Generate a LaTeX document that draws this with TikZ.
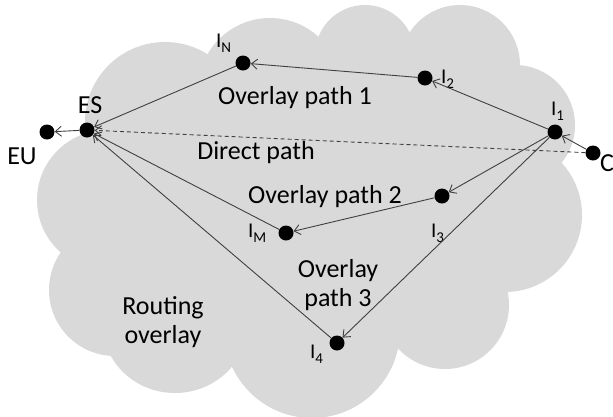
\documentclass[tikz,border=0pt]{standalone}
\usepackage{fontspec}
\setmainfont{Carlito}
\usetikzlibrary{positioning,arrows.meta}
\definecolor{cloudgray}{RGB}{217,217,217}
\definecolor{linkgray}{RGB}{64,64,64}
\newcommand{\Isub}[1]{I\raisebox{-5pt}{\fontsize{15}{15}\selectfont #1}}
\begin{document}
\begin{tikzpicture}[x=1pt,y=-1pt,
  dot/.style={circle,fill=black,inner sep=0pt,minimum size=15pt},
  link/.style={draw=linkgray,line width=0.9pt,-{Straight Barb[length=6pt,width=10pt]}},
  txt/.style={font=\fontsize{26}{29}\selectfont,align=center,inner sep=0pt},
  lbl/.style={font=\fontsize{21}{22}\selectfont,inner sep=0pt,anchor=base west}]
\useasboundingbox (0,0) rectangle (613,416);
% cloud
\foreach \cx/\cy/\r in {165/122/80, 270/90/72, 365/55/50, 460/65/60, 515/125/60,
  505/215/77, 445/305/64, 312/330/88, 107/200/70, 115/290/66}
  \fill[cloudgray] (\cx,\cy) circle[radius=\r pt];
\fill[cloudgray] (175,325) ellipse[x radius=72pt, y radius=68pt];
\fill[cloudgray] (310,210) ellipse[x radius=220pt, y radius=150pt];
% nodes
\node[dot] (eu) at (47,132) {};
\node[dot] (es) at (87,130) {};
\node[dot] (iN) at (243,63) {};
\node[dot] (i2) at (425,78) {};
\node[dot] (i1) at (555,132) {};
\node[dot] (c) at (593,153) {};
\node[dot] (i3) at (442,196) {};
\node[dot] (iM) at (286,233) {};
\node[dot] (i4) at (337,343) {};
% labels
\node[txt] (euL) at (22,156) {EU};
\node[txt] (esL) at (90,105) {ES};
\node[txt,anchor=west] (cL) at (600,163) {C};
\node[lbl] (iNL) at (216,47) {\Isub{N}};
\node[lbl] (i2L) at (441,83) {\Isub{2}};
\node[lbl] (i1L) at (551,115) {\Isub{1}};
\node[lbl] (i3L) at (431,237) {\Isub{3}};
\node[lbl] (iML) at (248,237) {\Isub{M}};
\node[lbl] (i4L) at (310,358) {\Isub{4}};
\node[txt,anchor=base] (path1) at (295,104) {Overlay path 1};
\node[txt,anchor=base] (direct) at (256,159) {Direct path};
\node[txt,anchor=base] (path2) at (325,203) {Overlay path 2};
\node[txt] (path3) at (338,285) {Overlay\\path 3};
\node[txt] (routing) at (163,322) {Routing\\overlay};
% connectors
\draw[link] (es) -- (eu);
\draw[link] (iN) -- (es);
\draw[link] (i2) -- (iN);
\draw[link] (i1) -- (i2);
\draw[link] (c) -- (i1);
\draw[link,dashed,dash pattern=on 4pt off 3pt] (c) -- (es);
\draw[link] (i1) -- (i3);
\draw[link] (i3) -- (iM);
\draw[link] (iM) -- (es);
\draw[link] (i1) -- (i4);
\draw[link] (i4) -- (es);
\end{tikzpicture}
\end{document}
